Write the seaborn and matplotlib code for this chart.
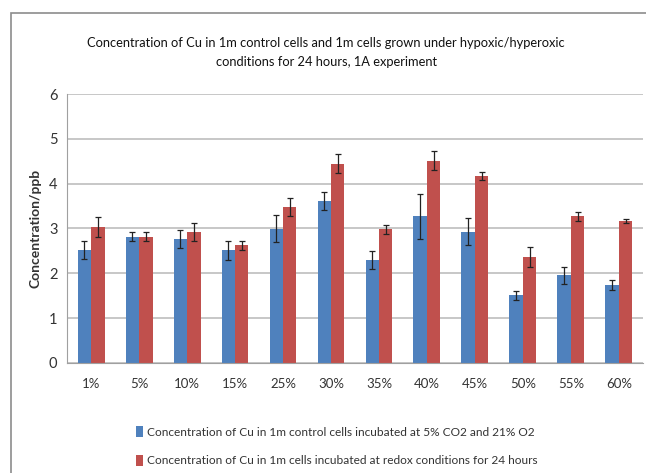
import pandas as pd
import seaborn as sns
import matplotlib
matplotlib.use("Agg")
import matplotlib.pyplot as plt
from matplotlib.patches import Rectangle

# values
conditions = ["1%", "5%", "10%", "15%", "25%", "30%", "35%", "40%", "45%", "50%", "55%", "60%"]
control_vals = [2.52, 2.81, 2.76, 2.51, 2.99, 3.61, 2.29, 3.27, 2.93, 1.51, 1.95, 1.74]
control_err = [0.21, 0.10, 0.20, 0.21, 0.30, 0.20, 0.20, 0.50, 0.31, 0.10, 0.20, 0.11]
redox_vals = [3.04, 2.81, 2.93, 2.63, 3.48, 4.45, 2.98, 4.51, 4.17, 2.36, 3.27, 3.17]
redox_err = [0.22, 0.10, 0.20, 0.10, 0.20, 0.21, 0.10, 0.21, 0.09, 0.22, 0.10, 0.05]

series_names = [
    "Concentration of Cu in 1m control cells incubated at 5% CO2 and 21% O2",
    "Concentration of Cu in 1m cells incubated at redox conditions for 24 hours",
]
colors = ["#4F81BD", "#C0504D"]
title = ("Concentration of Cu in 1m control cells and 1m cells grown under hypoxic/hyperoxic\n"
         "conditions for 24 hours, 1A experiment")

sns.set_style("white")
plt.rcParams["font.family"] = ["Lato", "DejaVu Sans"]

df = pd.DataFrame({
    "condition": conditions * 2,
    "value": control_vals + redox_vals,
    "err": control_err + redox_err,
    "series": [series_names[0]] * len(conditions) + [series_names[1]] * len(conditions),
})

fig = plt.figure(figsize=(6.46, 4.73), dpi=100)
ax = fig.add_axes([0.104, 0.233, 0.891, 0.568])

sns.barplot(data=df, x="condition", y="value", hue="series", palette=colors,
            width=0.56, gap=0, errorbar=None, saturation=1, ax=ax, legend=False)

# error bars at the centres of the bars seaborn placed
for i, name in enumerate(series_names):
    bars = ax.containers[i]
    sub = df[df["series"] == name]
    xs = [b.get_x() + b.get_width() / 2 for b in bars]
    ax.errorbar(xs, sub["value"].values, yerr=sub["err"].values, fmt="none",
                ecolor="#222222", elinewidth=0.9, capsize=2.5, capthick=0.9)

for b in ax.patches:
    b.set_edgecolor("none")

ax.set_ylim(0, 6)
ax.set_xlim(-0.5, len(conditions) - 0.5)
ax.set_yticks(range(0, 7))
ax.yaxis.grid(True, color="#BEBEBE", linewidth=1.2)
ax.set_axisbelow(True)
for side in ["top", "right"]:
    ax.spines[side].set_visible(False)
ax.spines["left"].set_color("#A0A0A0")
ax.spines["bottom"].set_color("#A0A0A0")

# category separators on the x axis
ax.set_xticks([i + 0.5 for i in range(-1, len(conditions))], minor=True)
ax.tick_params(axis="x", which="minor", length=4, color="#A0A0A0", width=1)
ax.tick_params(axis="x", which="major", length=0, pad=11, labelsize=9.5, labelcolor="#333333")
ax.tick_params(axis="y", length=4, color="#A0A0A0", labelsize=10.5, labelcolor="#333333", pad=3)

ax.set_xlabel("")
ax.set_ylabel("Concentration/ppb", fontsize=10, fontweight="bold", color="#333333", labelpad=5)

fig.text(0.505, 0.89, title, ha="center", va="center", fontsize=9.3, color="#111111",
         linespacing=1.7)

handles = [Rectangle((0, 0), 1, 1, facecolor=c, edgecolor="none") for c in colors]
fig.legend(handles, series_names, loc="upper left", bbox_to_anchor=(0.203, 0.109),
           frameon=False, fontsize=8.6, handlelength=0.6, handleheight=1.05,
           handletextpad=0.3, labelspacing=1.4, borderaxespad=0, labelcolor="#333333")

fig.add_artist(Rectangle((0.017, -0.2), 1.2, 0.2 + 0.9725, transform=fig.transFigure,
                         fill=False, edgecolor="#8C8C8C", linewidth=1.2))

fig.savefig("out.png", dpi=100)
